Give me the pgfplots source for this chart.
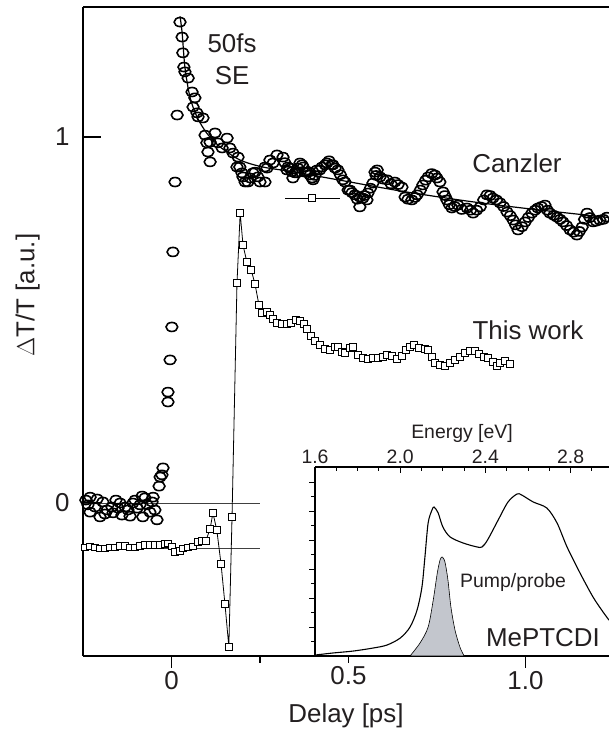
\documentclass[border=0pt]{standalone}
\usepackage{pgfplots}
\pgfplotsset{compat=1.18}
\usepackage{fontspec}
\setmainfont{Liberation Sans}
\definecolor{txt}{HTML}{231F20}
\definecolor{pump}{HTML}{C3C6CD}
\newcommand{\bigf}{\fontsize{26}{31}\selectfont}
\newcommand{\smf}{\fontsize{19.5}{23}\selectfont}
\begin{document}
\begin{tikzpicture}
\begin{axis}[
  at={(83bp,79bp)}, anchor=south west,
  scale only axis, width=526bp, height=649bp,
  xmin=-0.25, xmax=1.2359, ymin=-0.418, ymax=1.3552,
  axis x line=box, axis y line=left,
  axis line style={-, line width=1.6bp, black},
  /pgf/number format/assume math mode=true,
  tick style={line width=1.6bp, black},
  xtick pos=bottom, xtick align=outside,
  ytick pos=left, ytick align=inside,
  major tick length=12bp, minor tick length=10bp,
  xtick={0,1}, xticklabels={0,1.0},
  extra x ticks={0.25,0.5}, extra x tick labels={,0.5},
  extra x tick style={major tick length=7bp, xtick align=outside},
  ytick=\empty,
  extra y ticks={0,1}, extra y tick labels={0,1},
  extra y tick style={major tick length=18bp, ytick align=inside, yticklabel style={xshift=-10bp}},
  minor ytick={0.5},
  tick label style={font=\bigf, text=txt},
  xlabel={Delay [ps]}, ylabel={$\Delta$T/T [a.u.]},
  label style={font=\bigf, text=txt},
  ylabel style={at={(axis description cs:-0.105,0.556)}, anchor=center, rotate=0},
  xlabel style={at={(axis description cs:0.5,-0.092)}, anchor=center},
  clip=true,
]
% reference lines
\addplot[black!75, line width=0.7bp] coordinates {(-0.25,0) (0.25,0)};
\addplot[black!75, line width=0.7bp] coordinates {(-0.25,-0.123) (0.25,-0.123)};
% Canzler data (open circles)
\addplot[only marks, mark=o, mark size=4.5bp, mark options={line width=1.6bp, xscale=1.3, black}] coordinates {
(-0.242,0.008) (-0.236,-0.005) (-0.230,0.016) (-0.230,-0.025) (-0.216,-0.011) (-0.210,0.011)
(-0.202,-0.038) (-0.194,0.003) (-0.188,-0.030) (-0.182,-0.019) (-0.168,-0.011) (-0.165,-0.027)
(-0.157,0.008) (-0.151,-0.014) (-0.145,0.0) (-0.140,-0.033) (-0.131,-0.011) (-0.123,-0.019)
(-0.117,-0.036) (-0.109,0.0) (-0.103,0.008) (-0.097,-0.014) (-0.089,-0.005) (-0.083,0.019)
(-0.081,-0.038) (-0.075,0.014) (-0.069,-0.005) (-0.061,-0.025) (-0.055,0.003) (-0.052,0.016)
(-0.047,-0.019) (-0.041,-0.046)
(-0.035,0.046) (-0.032,0.071) (-0.027,0.077) (-0.024,0.096)
(-0.010,0.276) (-0.010,0.303) (-0.004,0.391) (0.001,0.481) (0.004,0.686) (0.010,0.877)
(0.016,1.060) (0.024,1.314)
(0.030,1.273) (0.032,1.230) (0.035,1.191) (0.038,1.178) (0.047,1.161) (0.058,1.123)
(0.066,1.107) (0.061,1.082) (0.072,1.066) (0.075,1.055) (0.089,1.052) (0.095,1.005)
(0.100,0.984) (0.109,0.986) (0.103,0.959) (0.109,0.932) (0.123,1.011) (0.131,0.984)
(0.143,0.970) (0.157,0.997) (0.165,0.970) (0.174,0.956) (0.188,0.945) (0.185,0.918)
(0.193,0.918) (0.199,0.902) (0.202,0.891) (0.208,0.877) (0.216,0.877) (0.222,0.888)
(0.230,0.902) (0.236,0.904) (0.244,0.891) (0.250,0.877) (0.264,0.877) (0.264,0.918)
(0.270,0.915) (0.278,0.937) (0.287,0.929) (0.298,0.951) (0.315,0.945) (0.326,0.910)
(0.329,0.918) (0.335,0.915) (0.343,0.888) (0.349,0.902) (0.355,0.902) (0.363,0.929)
(0.369,0.924) (0.377,0.904) (0.383,0.904) (0.391,0.896) (0.397,0.888) (0.400,0.883)
(0.411,0.910) (0.419,0.910) (0.434,0.924) (0.439,0.929) (0.453,0.924) (0.456,0.924)
(0.470,0.910) (0.484,0.883) (0.490,0.877) (0.499,0.855) (0.504,0.855) (0.518,0.842)
(0.532,0.836) (0.532,0.809) (0.541,0.833) (0.552,0.828) (0.555,0.847) (0.569,0.874)
(0.575,0.904) (0.581,0.910) (0.589,0.891) (0.609,0.883) (0.631,0.877) (0.651,0.863)
(0.660,0.836) (0.679,0.828) (0.694,0.842) (0.710,0.869) (0.725,0.891) (0.744,0.896)
(0.758,0.877) (0.767,0.850) (0.778,0.828) (0.792,0.806) (0.809,0.814) (0.835,0.806)
(0.852,0.792) (0.872,0.809) (0.891,0.842) (0.908,0.833) (0.928,0.820) (0.948,0.795)
(0.965,0.773) (0.979,0.746) (0.999,0.768) (1.018,0.792) (1.035,0.806) (1.055,0.814)
(1.069,0.792) (1.089,0.781) (1.106,0.768) (1.126,0.746) (1.145,0.732) (1.160,0.754)
(1.174,0.792) (1.191,0.768) (1.210,0.773) (1.230,0.781) (1.245,0.792)
(0.32,0.93) (0.34,0.905) (0.357,0.915) (0.372,0.918) (0.388,0.905) (0.405,0.895)
(0.425,0.918) (0.445,0.935) (0.462,0.915) (0.477,0.897) (0.51,0.848) (0.525,0.83)
(0.545,0.84) (0.562,0.86) (0.578,0.895) (0.598,0.885) (0.62,0.872) (0.64,0.87)
(0.668,0.83) (0.688,0.835) (0.703,0.855) (0.718,0.882) (0.735,0.9) (0.75,0.888)
(0.772,0.84) (0.785,0.815) (0.8,0.81) (0.82,0.802) (0.845,0.8) (0.862,0.8)
(0.882,0.828) (0.9,0.84) (0.918,0.828) (0.938,0.81) (0.957,0.785) (0.972,0.76)
(0.99,0.755) (1.008,0.78) (1.027,0.8) (1.045,0.81) (1.062,0.8) (1.08,0.786)
(1.098,0.775) (1.116,0.758) (1.136,0.74) (1.152,0.742) (1.167,0.775) (1.182,0.78)
(1.2,0.77) (1.22,0.775)
};
% fit line
\addplot[black, line width=1.2bp, smooth] coordinates {
(0.024,1.33) (0.03,1.285) (0.038,1.19) (0.052,1.11) (0.072,1.055) (0.1,1.01)
(0.137,0.973) (0.194,0.937) (0.258,0.918) (0.343,0.905) (0.476,0.882) (0.65,0.852)
(0.835,0.825) (1.0,0.805) (1.236,0.78)
};
% This work (open squares)
\addplot[black, line width=0.8bp, mark=square*, mark size=3.3bp, mark options={fill=white, line width=0.9bp}] coordinates {
(-0.244,-0.121) (-0.230,-0.119) (-0.216,-0.121) (-0.202,-0.124) (-0.188,-0.124) (-0.174,-0.121)
(-0.160,-0.121) (-0.145,-0.117) (-0.131,-0.117) (-0.117,-0.121) (-0.103,-0.121) (-0.089,-0.117)
(-0.075,-0.115) (-0.061,-0.115) (-0.047,-0.115) (-0.032,-0.115) (-0.018,-0.112) (-0.010,-0.110)
(0.001,-0.119) (0.010,-0.133) (0.024,-0.131) (0.032,-0.124) (0.047,-0.121) (0.061,-0.119)
(0.075,-0.106) (0.086,-0.104) (0.097,-0.103)
(0.109,-0.071) (0.117,-0.027) (0.128,-0.074) (0.140,-0.167) (0.151,-0.276) (0.162,-0.393)
(0.171,-0.038) (0.185,0.601) (0.194,0.792) (0.202,0.705) (0.213,0.658) (0.225,0.637)
(0.236,0.598) (0.247,0.541) (0.256,0.519) (0.270,0.522) (0.278,0.514) (0.287,0.503)
(0.298,0.492) (0.312,0.489) (0.326,0.489) (0.338,0.492) (0.352,0.500) (0.363,0.497)
(0.374,0.489) (0.383,0.475) (0.394,0.456) (0.405,0.443) (0.419,0.432) (0.434,0.421)
(0.448,0.418) (0.462,0.426) (0.470,0.426) (0.482,0.413) (0.490,0.410) (0.504,0.424)
(0.513,0.426) (0.527,0.404) (0.541,0.396) (0.555,0.393) (0.569,0.396) (0.583,0.396)
(0.597,0.399) (0.609,0.404) (0.623,0.402) (0.637,0.393) (0.651,0.402) (0.662,0.418)
(0.674,0.426) (0.685,0.432) (0.699,0.424) (0.716,0.421) (0.725,0.418) (0.736,0.399)
(0.744,0.383) (0.758,0.377) (0.773,0.374) (0.787,0.383) (0.801,0.391) (0.815,0.399)
(0.829,0.410) (0.843,0.415) (0.857,0.415) (0.869,0.407) (0.883,0.399) (0.894,0.396)
(0.908,0.385) (0.919,0.374) (0.928,0.383) (0.942,0.388) (0.956,0.380)
};
% legend-like marker
\addplot[black, line width=1bp, mark=square*, mark size=3.3bp, mark indices={2}, mark options={fill=white, line width=0.9bp}] coordinates {(0.321,0.833) (0.397,0.833) (0.476,0.833)};
\node[font=\bigf, text=txt] at (axis cs:0.171,1.257) {50fs};
\node[font=\bigf, text=txt] at (axis cs:0.171,1.169) {SE};
\node[font=\bigf, text=txt] at (axis cs:0.976,0.929) {Canzler};
\node[font=\bigf, text=txt] at (axis cs:1.007,0.473) {This work};
\end{axis}
% inset
\begin{axis}[
  at={(315bp,79bp)}, anchor=south west,
  scale only axis, width=294bp, height=189bp,
  xmin=1.6, xmax=2.98, ymin=0, ymax=1,
  axis x line=top, axis y line=left,
  axis line style={-, line width=1.2bp, black},
  /pgf/number format/assume math mode=true,
  tick style={line width=1bp, black},
  xtick align=inside, ytick align=outside,
  major tick length=6bp, minor tick length=4bp,
  xtick={1.6,2.0,2.4,2.8}, xticklabels={1.6,2.0,2.4,2.8},
  minor xtick={1.7,1.8,1.9,2.1,2.2,2.3,2.5,2.6,2.7,2.9},
  ytick={0,0.1533,0.3067,0.46,0.6133,0.7667,0.92}, yticklabels={},
  minor ytick={0.0767,0.23,0.3833,0.5367,0.69,0.8433},
  tick label style={font=\smf, text=txt},
  xlabel={Energy [eV]},
  xlabel style={font=\smf, text=txt},
  clip=true,
]
\addplot[black, line width=1.1bp, smooth, tension=0.5] coordinates {
(1.6,0.005) (1.685,0.016) (1.778,0.026) (1.872,0.042) (1.938,0.058) (2.0,0.095)
(2.046,0.153) (2.079,0.243) (2.102,0.365) (2.116,0.524) (2.131,0.704) (2.149,0.772)
(2.159,0.788) (2.178,0.757) (2.2,0.683) (2.234,0.630) (2.295,0.598) (2.36,0.577)
(2.384,0.577) (2.41,0.614) (2.46,0.720) (2.506,0.815) (2.548,0.857) (2.57,0.852)
(2.624,0.815) (2.688,0.783) (2.736,0.704) (2.783,0.577) (2.844,0.439) (2.905,0.312)
(2.952,0.233) (2.98,0.190)
};
\addplot[fill=pump, draw=black, line width=0.6bp, smooth, tension=0.5] coordinates {
(2.046,0.0) (2.093,0.069) (2.131,0.153) (2.155,0.296) (2.174,0.439) (2.187,0.508)
(2.197,0.524) (2.21,0.497) (2.224,0.402) (2.238,0.259) (2.257,0.138) (2.28,0.048) (2.3,0.0)
} \closedcycle;
\node[font=\smf, text=txt] at (axis cs:2.53,0.39) {Pump/probe};
\node[font=\bigf, text=txt] at (axis cs:2.67,0.10) {MePTCDI};
\node[font=\smf, text=txt, rotate=90] at (axis description cs:-0.082,0.55) {Abs [a.u.]};
\end{axis}
\pgfresetboundingbox
\path[use as bounding box] (0,0) rectangle (609bp,735bp);
\end{tikzpicture}
\end{document}
